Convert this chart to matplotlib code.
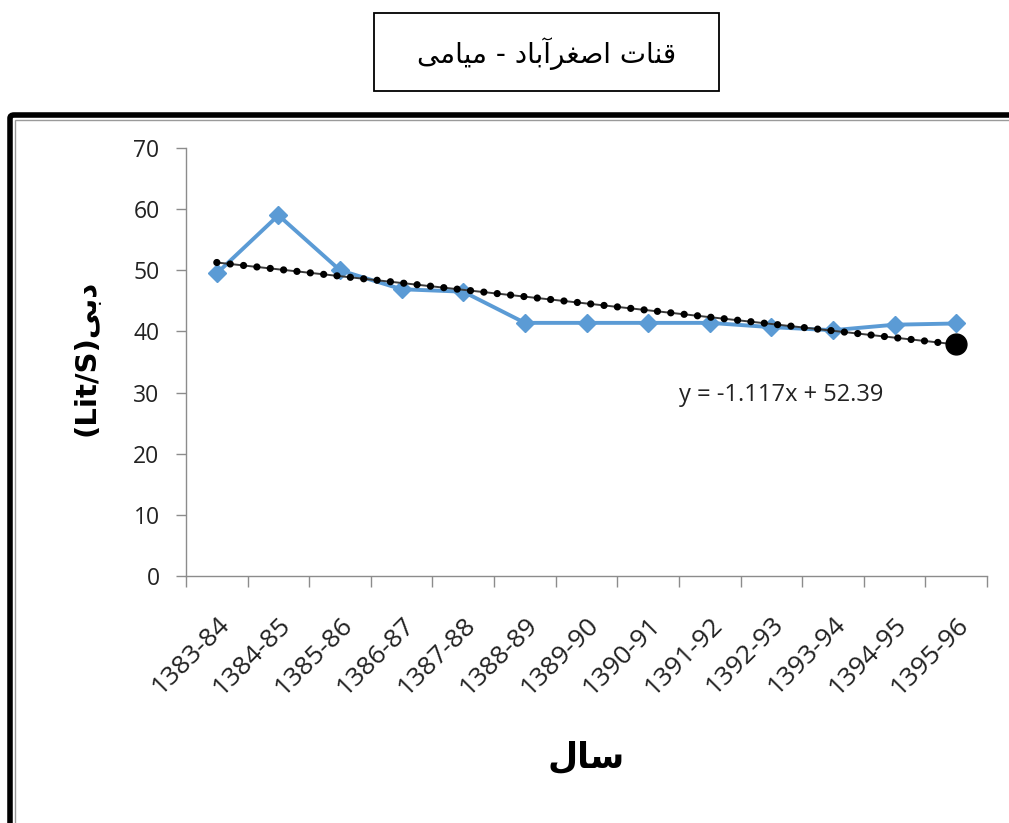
import matplotlib
matplotlib.use("Agg")
import matplotlib.pyplot as plt
from matplotlib.patches import Rectangle, FancyBboxPatch
from matplotlib.transforms import ScaledTranslation

# ---- data -------------------------------------------------------------
years = ["1383-84", "1384-85", "1385-86", "1386-87", "1387-88", "1388-89",
         "1389-90", "1390-91", "1391-92", "1392-93", "1393-94", "1394-95",
         "1395-96"]
discharge = [49.5, 59.0, 50.0, 46.9, 46.5, 41.4, 41.4, 41.4, 41.4, 40.7,
             40.2, 41.1, 41.3]
trend_slope = -1.117
trend_intercept = 52.39

title_text = "قنات اصغرآباد - میامی"
xlabel_text = "سال"
ylabel_fa = "دبی"
ylabel_unit = "(Lit/S)"
y_ticks = [0, 10, 20, 30, 40, 50, 60, 70]

# ---- minimal Arabic/Persian shaping (matplotlib draws glyphs unshaped) ----
FORMS = {  # isolated, final, initial, medial
    "ق": ("\uFED5", "\uFED6", "\uFED7", "\uFED8"),
    "ن": ("\uFEE5", "\uFEE6", "\uFEE7", "\uFEE8"),
    "ا": ("\uFE8D", "\uFE8E", None, None),
    "آ": ("\uFE81", "\uFE82", None, None),
    "ت": ("\uFE95", "\uFE96", "\uFE97", "\uFE98"),
    "ص": ("\uFEB9", "\uFEBA", "\uFEBB", "\uFEBC"),
    "غ": ("\uFECD", "\uFECE", "\uFECF", "\uFED0"),
    "ر": ("\uFEAD", "\uFEAE", None, None),
    "ب": ("\uFE8F", "\uFE90", "\uFE91", "\uFE92"),
    "د": ("\uFEA9", "\uFEAA", None, None),
    "م": ("\uFEE1", "\uFEE2", "\uFEE3", "\uFEE4"),
    "ی": ("\uFBFC", "\uFBFD", "\uFBFE", "\uFBFF"),
    "س": ("\uFEB1", "\uFEB2", "\uFEB3", "\uFEB4"),
    "ل": ("\uFEDD", "\uFEDE", "\uFEDF", "\uFEE0"),
}


def dual(ch):
    return ch in FORMS and FORMS[ch][2] is not None


def shape_rtl(text):
    out = []
    for i, ch in enumerate(text):
        if ch not in FORMS:
            out.append(ch)
            continue
        prev = text[i - 1] if i > 0 else ""
        nxt = text[i + 1] if i + 1 < len(text) else ""
        join_prev = dual(prev)
        join_next = dual(ch) and nxt in FORMS
        iso, fin, ini, med = FORMS[ch]
        if join_prev and join_next:
            out.append(med)
        elif join_prev:
            out.append(fin)
        elif join_next:
            out.append(ini)
        else:
            out.append(iso)
    return "".join(reversed(out))


# ---- figure -----------------------------------------------------------
W, H = 1009, 823
fig = plt.figure(figsize=(W / 100, H / 100), dpi=100)
fig.patch.set_facecolor("white")


def fx(x):
    return x / W


def fy(y):
    return 1 - y / H


# outer chart frame (thick black with a thin grey inner line)
fig.patches.append(FancyBboxPatch((fx(10), fy(900)), fx(1100), fy(115) - fy(900),
                                  boxstyle="round,pad=0,rounding_size=0.004",
                                  transform=fig.transFigure, fill=False,
                                  edgecolor="black", linewidth=4.0, zorder=0))
fig.patches.append(Rectangle((fx(14.5), fy(900)), fx(1100), fy(119.5) - fy(900),
                             transform=fig.transFigure, fill=False,
                             edgecolor="#9a9a9a", linewidth=1.0, zorder=0))

# title box
fig.patches.append(Rectangle((fx(374), fy(91)), fx(719) - fx(374), fy(13) - fy(91),
                             transform=fig.transFigure, fill=False,
                             edgecolor="black", linewidth=1.3))
fig.text(fx(547), fy(54), shape_rtl(title_text), ha="center", va="center",
         fontsize=20, family=["DejaVu Sans"])

# plot area
ax = fig.add_axes([fx(186), fy(576), fx(987) - fx(186), fy(148) - fy(576)])
x = list(range(len(years)))

ax.plot(x, discharge, color="#5B9BD5", linewidth=2.8, marker="D",
        markersize=9, markeredgecolor="#5B9BD5", zorder=3)

trend_x = [i for i in x]
trend_y = [trend_slope * (i + 1) + trend_intercept for i in x]
ax.plot(trend_x, trend_y, color="#3a3a3a", linewidth=1.4, zorder=4)
ax.plot(trend_x, trend_y, color="black", linewidth=5.2, linestyle=(0, (0.01, 1.85)),
        dash_capstyle="round", zorder=5)
ax.plot(trend_x[-1], trend_y[-1], marker="o", color="black", markersize=15, zorder=6)

ax.text(7.5, 29.6, f"y = {trend_slope}x + {trend_intercept}", fontsize=17,
        family="Open Sans", color="#222222", va="center")

ax.set_xlim(-0.5, len(years) - 0.5)
ax.set_ylim(0, 70)
ax.set_yticks(y_ticks)
ax.set_yticklabels([str(v) for v in y_ticks], fontsize=16.5, family="Open Sans",
                   color="#222222")

ax.set_xticks([i - 0.5 for i in range(len(years) + 1)])
ax.set_xticklabels([])
ax.set_xticks(x, minor=True)
ax.set_xticklabels(years, minor=True, rotation=45, ha="right",
                   rotation_mode="anchor", fontsize=19, family="Open Sans",
                   color="#222222")
shift = ScaledTranslation(-7 / 100, 0, fig.dpi_scale_trans)
for lbl in ax.get_xticklabels(minor=True):
    lbl.set_transform(lbl.get_transform() + shift)
ax.tick_params(axis="x", which="minor", length=0, pad=26)
ax.tick_params(axis="x", which="major", length=8, width=1, color="#8c8c8c",
               direction="out")
ax.tick_params(axis="y", length=7, width=1, color="#8c8c8c", direction="out", pad=12)

for side in ("top", "right"):
    ax.spines[side].set_visible(False)
for side in ("left", "bottom"):
    ax.spines[side].set_color("#8c8c8c")
    ax.spines[side].set_linewidth(1.0)

fig.text(fx(86), fy(358), ylabel_unit + shape_rtl(ylabel_fa), rotation=90,
         ha="center", va="center", fontsize=21, fontweight="bold",
         family=["DejaVu Sans"])
fig.text(fx(586), fy(758), shape_rtl(xlabel_text), ha="center", va="center",
         fontsize=25, fontweight="bold", family=["DejaVu Sans"])

fig.savefig("out.png", dpi=100)
